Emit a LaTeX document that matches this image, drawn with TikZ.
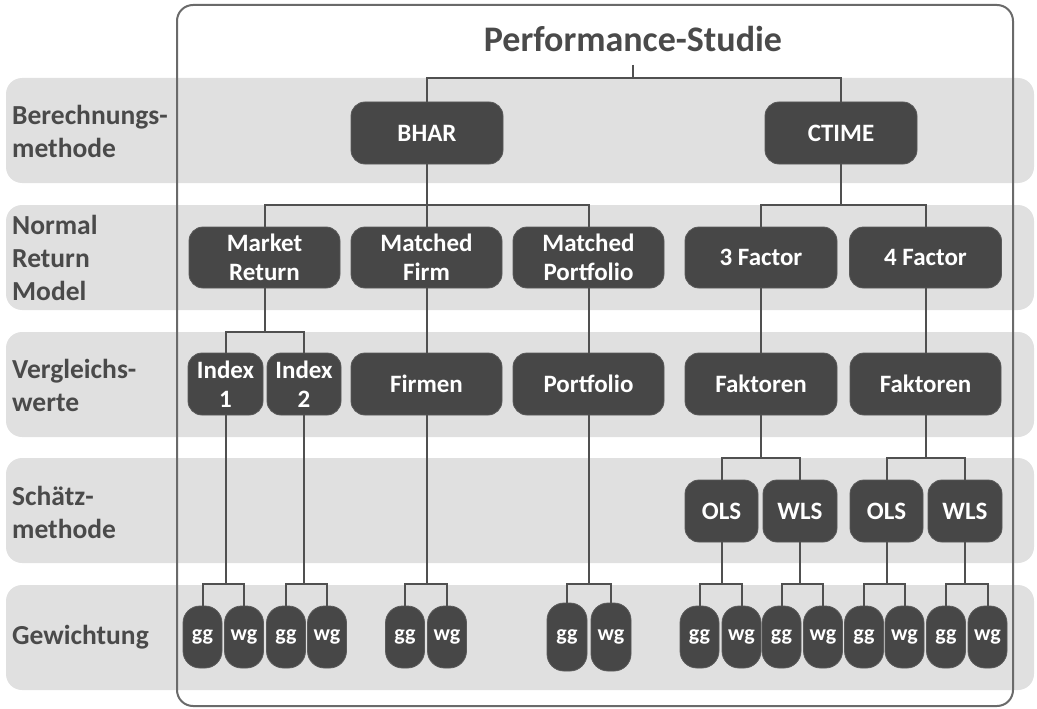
\documentclass[tikz,border=0pt]{standalone}
\usepackage{fontspec}
\setmainfont{Carlito}
\definecolor{bandgray}{HTML}{E0E0E0}
\definecolor{nodefill}{HTML}{474747}
\definecolor{nodeedge}{HTML}{5A5A5A}
\definecolor{linegray}{HTML}{505050}
\definecolor{framegray}{HTML}{6A6A6A}
\definecolor{labelgray}{HTML}{4A4A4A}
\tikzset{
  band/.style={fill=bandgray, draw=none, rounded corners=16pt},
  nd/.style={fill=nodefill, draw=nodeedge, line width=0.8pt, rounded corners=14pt,
    text=white, align=center, inner sep=2pt,
    font=\fontsize{25}{29}\selectfont\bfseries},
  pill/.style={nd, rounded corners=17pt, minimum width=39pt, minimum height=62pt, inner sep=0pt,
    font=\fontsize{22}{26}\selectfont\bfseries},
  lbl/.style={anchor=west, align=left, text=labelgray, inner sep=0pt,
    font=\fontsize{27.5}{33}\selectfont\bfseries},
  conn/.style={draw=linegray, line width=2pt},
}
\begin{document}
\begin{tikzpicture}[x=1pt, y=-1pt]
\useasboundingbox (0,0) rectangle (1037,709);
% bands
\fill[band] (6,78) rectangle (1034,183);
\fill[band] (6,205) rectangle (1034,310);
\fill[band] (6,332) rectangle (1034,437);
\fill[band] (6,458) rectangle (1034,563);
\fill[band] (6,585) rectangle (1034,690);
% frame
\draw[framegray, line width=2pt, rounded corners=16pt] (177,5) rectangle (1013,706);
% labels
\node[lbl] (l1) at (12,131) {Berechnungs-\\methode};
\node[lbl] (l2) at (12,258) {Normal\\Return\\Model};
\node[lbl] (l3) at (12,385) {Vergleichs-\\werte};
\node[lbl] (l4) at (12,512) {Schätz-\\methode};
\node[lbl] (l5) at (12,637) {Gewichtung};
% title
\node[anchor=base, inner sep=0pt, text=labelgray, font=\fontsize{36}{40}\selectfont\bfseries] (title) at (633,52) {Performance-Studie};
\coordinate (tt) at (633,65);
% row 1
\node[nd, minimum width=152pt, minimum height=62pt] (bhar) at (427,133) {BHAR};
\node[nd, minimum width=152pt, minimum height=62pt] (ctime) at (841,133) {CTIME};
% row 2
\node[nd, minimum width=151pt, minimum height=61pt] (mr) at (264.5,257.5) {Market\\Return};
\node[nd, minimum width=151pt, minimum height=61pt] (mf) at (426.5,257.5) {Matched\\Firm};
\node[nd, minimum width=151pt, minimum height=61pt] (mp) at (588.5,257.5) {Matched\\Portfolio};
\node[nd, minimum width=152pt, minimum height=61pt] (f3) at (761,257.5) {3 Factor};
\node[nd, minimum width=152pt, minimum height=61pt] (f4) at (925.5,257.5) {4 Factor};
% row 3
\node[nd, minimum width=75pt, minimum height=62pt] (i1) at (225.5,384) {Index\\1};
\node[nd, minimum width=74pt, minimum height=62pt] (i2) at (304,384) {Index\\2};
\node[nd, minimum width=151pt, minimum height=62pt] (fi) at (426.5,384) {Firmen};
\node[nd, minimum width=151pt, minimum height=62pt] (po) at (588.5,384) {Portfolio};
\node[nd, minimum width=152pt, minimum height=62pt] (fa1) at (761,384) {Faktoren};
\node[nd, minimum width=151pt, minimum height=62pt] (fa2) at (925.5,384) {Faktoren};
% row 4
\node[nd, minimum width=73pt, minimum height=62pt] (o1) at (721.5,511) {OLS};
\node[nd, minimum width=74pt, minimum height=62pt] (w1) at (800,511) {WLS};
\node[nd, minimum width=73pt, minimum height=62pt] (o2) at (886.5,511) {OLS};
\node[nd, minimum width=74pt, minimum height=62pt] (w2) at (965,511) {WLS};
% row 5
\node[pill] (g1) at (202.5,637) {gg};
\node[pill] (v1) at (244,637) {wg};
\node[pill] (g2) at (286,637) {gg};
\node[pill] (v2) at (327,637) {wg};
\node[pill] (g3) at (405,637) {gg};
\node[pill] (v3) at (447,637) {wg};
\node[pill, minimum width=40pt, minimum height=68pt] (g4) at (567,637) {gg};
\node[pill, minimum width=40pt, minimum height=68pt] (v4) at (611,637) {wg};
\node[pill] (g5) at (699.5,637) {gg};
\node[pill] (v5) at (741.5,637) {wg};
\node[pill] (g6) at (781.5,637) {gg};
\node[pill] (v6) at (823,637) {wg};
\node[pill] (g7) at (864,637) {gg};
\node[pill] (v7) at (904.5,637) {wg};
\node[pill] (g8) at (946,637) {gg};
\node[pill] (v8) at (987.5,637) {wg};
% connectors
\draw[conn] (tt) -- ++(0,13) -| (bhar.north);
\draw[conn] (tt) -- ++(0,13) -| (ctime.north);
\foreach \c in {mr,mf,mp} \draw[conn] (bhar.south) -- ++(0,41) -| (\c.north);
\foreach \c in {f3,f4} \draw[conn] (ctime.south) -- ++(0,41) -| (\c.north);
\foreach \c in {i1,i2} \draw[conn] (mr.south) -- ++(0,44) -| (\c.north);
\draw[conn] (mf.south) -- (fi.north);
\draw[conn] (mp.south) -- (po.north);
\draw[conn] (f3.south) -- (fa1.north);
\draw[conn] (f4.south) -- (fa2.north);
\foreach \c in {o1,w1} \draw[conn] (fa1.south) -- ++(0,43) -| (\c.north);
\foreach \c in {o2,w2} \draw[conn] (fa2.south) -- ++(0,43) -| (\c.north);
\foreach \c in {g1,v1} \draw[conn] (i1.south) -- ++(0,169) -| (\c.north);
\foreach \c in {g2,v2} \draw[conn] (i2.south) -- ++(0,169) -| (\c.north);
\foreach \c in {g3,v3} \draw[conn] (fi.south) -- ++(0,169) -| (\c.north);
\foreach \c in {g4,v4} \draw[conn] (po.south) -- ++(0,169) -| (\c.north);
\foreach \c in {g5,v5} \draw[conn] (o1.south) -- ++(0,42) -| (\c.north);
\foreach \c in {g6,v6} \draw[conn] (w1.south) -- ++(0,42) -| (\c.north);
\foreach \c in {g7,v7} \draw[conn] (o2.south) -- ++(0,42) -| (\c.north);
\foreach \c in {g8,v8} \draw[conn] (w2.south) -- ++(0,42) -| (\c.north);
\end{tikzpicture}
\end{document}
